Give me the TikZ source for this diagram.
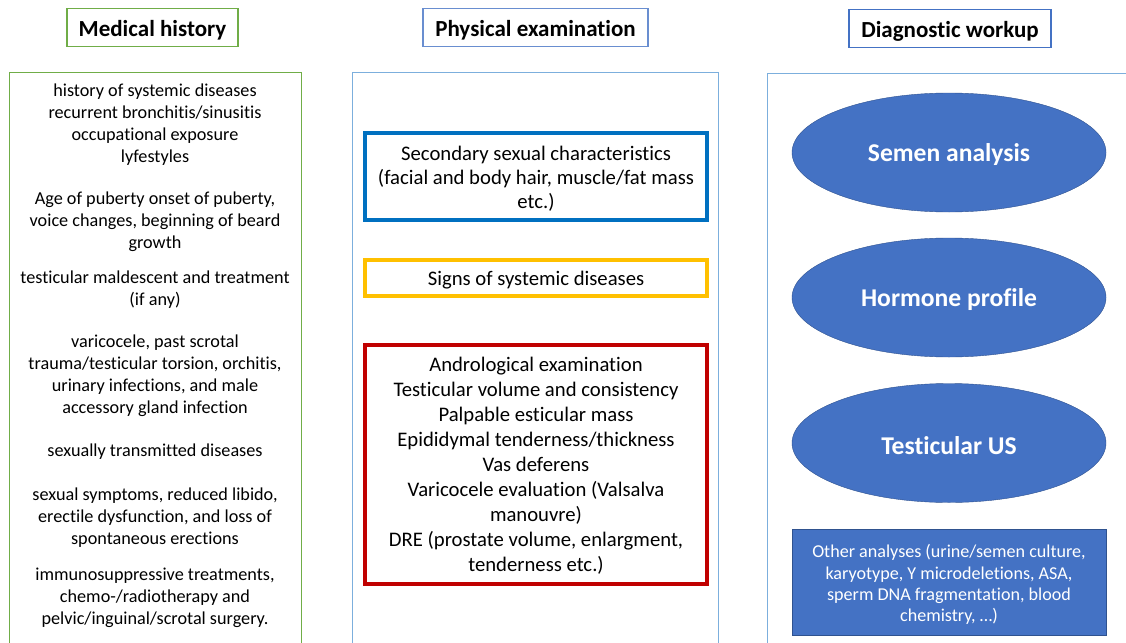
\documentclass[tikz,border=0pt]{standalone}
\usepackage{fontspec}
\setmainfont[Ligatures=NoCommon]{Carlito}
\usetikzlibrary{shapes.geometric}
\definecolor{mhgreen}{HTML}{70AD47}
\definecolor{hdrblue}{HTML}{4472C4}
\definecolor{paneblue}{HTML}{5B9BD5}
\definecolor{secblue}{HTML}{0070C0}
\definecolor{signgold}{HTML}{FFC000}
\definecolor{androred}{HTML}{C00000}
\definecolor{ellblue}{HTML}{4472C4}
\definecolor{ellline}{HTML}{2F528F}
\begin{document}
\begin{tikzpicture}[x=1pt,y=-1pt,
  lbl/.style={align=center, inner sep=0pt, yshift=-2.5pt},
  hdr/.style={draw, line width=1.5pt, minimum height=38pt, inner sep=0pt},
  hdrtxt/.style={lbl, font=\fontsize{23}{26}\selectfont\bfseries},
  pane/.style={draw, line width=1pt, anchor=north west, inner sep=0pt},
  txt/.style={lbl, font=\fontsize{18.2}{22}\selectfont},
  exbox/.style={draw, line width=3.5pt, minimum width=342pt, inner sep=0pt},
  extxt/.style={lbl, font=\fontsize{20.7}{24}\selectfont},
  ell/.style={ellipse, draw=ellline, fill=ellblue, minimum width=314pt, minimum height=119pt},
  elltxt/.style={lbl, text=white, font=\fontsize{25.6}{30}\selectfont\bfseries},
  othtxt/.style={lbl, text=white, font=\fontsize{18.1}{21.3}\selectfont}]
\useasboundingbox (0,0) rectangle (1126,642);
\clip (0,0) rectangle (1126,642);
% column headers
\node[hdr, draw=mhgreen, minimum width=171pt, label={[hdrtxt]center:Medical history}] (medhist) at (152.5,27.5) {};
\node[hdr, draw=hdrblue!80, minimum width=225pt, label={[hdrtxt]center:Physical examination}] (physex) at (535.5,27.5) {};
\node[hdr, draw=hdrblue, minimum width=202pt, label={[hdrtxt]center:Diagnostic workup}] (diagwork) at (950,28.5) {};
% column panes
\node[pane, draw=mhgreen, minimum width=292pt, minimum height=600pt] (mhpane) at (9,72) {};
\node[pane, draw=paneblue!80, minimum width=366pt, minimum height=600pt] (pepane) at (352,72) {};
\node[pane, draw=paneblue!80, minimum width=400pt, minimum height=600pt] (dwpane) at (767,73) {};
% medical history
\node[txt] (mh1) at (155,122.5) {history of systemic diseases\\recurrent bronchitis/sinusitis\\occupational exposure\\lyfestyles};
\node[txt] (mh2) at (155,219) {Age of puberty onset of puberty,\\voice changes, beginning of beard\\growth};
\node[txt] (mh3) at (155,287) {testicular maldescent and treatment\\(if any)};
\node[txt] (mh4) at (155,373.5) {varicocele, past scrotal\\trauma/testicular torsion, orchitis,\\urinary infections, and male\\accessory gland infection};
\node[txt] (mh5) at (155,449.5) {sexually transmitted diseases};
\node[txt] (mh6) at (155,515) {sexual symptoms, reduced libido,\\erectile dysfunction, and loss of\\spontaneous erections};
\node[txt] (mh7) at (155,595) {immunosuppressive treatments,\\chemo-/radiotherapy and\\pelvic/inguinal/scrotal surgery.};
% physical examination
\node[exbox, draw=secblue, minimum height=87pt, label={[extxt]center:{Secondary sexual characteristics\\(facial and body hair, muscle/fat mass\\etc.)}}] (secsex) at (536,176.5) {};
\node[exbox, draw=signgold, minimum height=36pt, label={[extxt]center:Signs of systemic diseases}] (signs) at (536,278) {};
\node[exbox, draw=androred, minimum height=239pt, label={[extxt, font=\fontsize{20.7}{25}\selectfont, yshift=1.5pt]center:{Andrological examination\\Testicular volume and consistency\\Palpable esticular mass\\Epididymal tenderness/thickness\\Vas deferens\\Varicocele evaluation (Valsalva\\manouvre)\\DRE (prostate volume, enlargment,\\tenderness etc.)}}] (andro) at (536,464.5) {};
% diagnostic workup
\node[ell, label={[elltxt]center:Semen analysis}] (semen) at (949,152.5) {};
\node[ell, label={[elltxt]center:Hormone profile}] (hormone) at (949,297.5) {};
\node[ell, label={[elltxt]center:Testicular US}] (testus) at (949,443) {};
\node[draw=ellline, fill=ellblue, minimum width=314pt, minimum height=106pt, inner sep=0pt, label={[othtxt]center:{Other analyses (urine/semen culture,\\karyotype, Y microdeletions, ASA,\\sperm DNA fragmentation, blood\\chemistry, \dots)}}] (other) at (949,582) {};
\end{tikzpicture}
\end{document}
